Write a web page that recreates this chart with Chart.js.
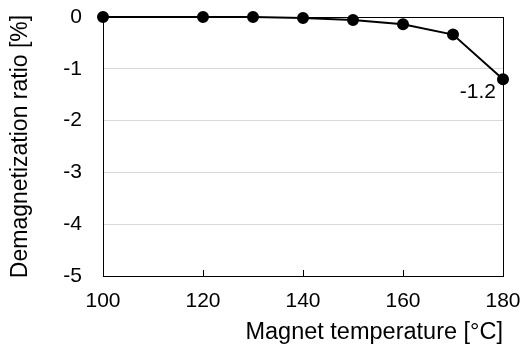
<!DOCTYPE html>
<html>
<head>
<meta charset="utf-8">
<script src="https://cdn.jsdelivr.net/npm/chart.js@4/dist/chart.umd.min.js"></script>
<style>
html,body{margin:0;padding:0;background:#fff;}
#wrap{width:527px;height:350px;position:relative;}
</style>
</head>
<body>
<div id="wrap"><canvas id="c" width="527" height="350"></canvas></div>
<script>
const temperatures = [100, 120, 130, 140, 150, 160, 170, 180];
const demagRatio = [0, 0, 0, -0.02, -0.06, -0.14, -0.34, -1.2];
const xTicks = [100, 120, 140, 160, 180];
const yTicks = [0, -1, -2, -3, -4, -5];
const xTitle = 'Magnet temperature [\u00B0C]';
const yTitle = 'Demagnetization ratio [%]';
const endLabel = '-1.2';

const FONT = "'Liberation Sans', Arial, sans-serif";

const boxPlugin = {
  id: 'boxPlugin',
  afterDatasetsDraw(chart) {
    const {ctx, chartArea: a, scales} = chart;
    ctx.save();
    ctx.strokeStyle = '#000';
    ctx.lineWidth = 1;
    ctx.strokeRect(Math.round(a.left) + 0.5, Math.round(a.top) + 0.5, Math.round(a.right - a.left), Math.round(a.bottom - a.top));
    ctx.beginPath();
    xTicks.slice(1, -1).forEach(v => {
      const x = Math.round(scales.x.getPixelForValue(v)) + 0.5;
      ctx.moveTo(x, a.bottom);
      ctx.lineTo(x, a.bottom - 6);
    });
    ctx.stroke();
    const meta = chart.getDatasetMeta(0);
    const last = meta.data[meta.data.length - 1];
    ctx.fillStyle = '#000';
    ctx.font = '21px ' + FONT;
    ctx.textAlign = 'right';
    ctx.textBaseline = 'top';
    ctx.fillText(endLabel, last.x - 7, last.y + 3);
    ctx.restore();
  }
};

new Chart(document.getElementById('c'), {
  type: 'scatter',
  data: {
    datasets: [{
      data: temperatures.map((t, i) => ({x: t, y: demagRatio[i]})),
      showLine: true,
      borderColor: '#000',
      backgroundColor: '#000',
      borderWidth: 2,
      pointRadius: 5,
      pointHoverRadius: 5,
      clip: false
    }]
  },
  options: {
    responsive: false,
    animation: false,
    events: [],
    layout: {padding: {top: 17, right: 24, left: 0, bottom: 0}},
    plugins: {legend: {display: false}, tooltip: {enabled: false}},
    scales: {
      x: {
        type: 'linear',
        min: 100, max: 180,
        afterBuildTicks(s) { s.ticks = xTicks.map(v => ({value: v})); },
        afterFit(s) { s.height = 74; s.paddingLeft = 0; s.paddingRight = 0; },
        grid: {display: false, drawTicks: false},
        border: {display: false},
        ticks: {color: '#000', font: {family: FONT, size: 21}, padding: 13, maxRotation: 0},
        title: {display: true, text: xTitle, align: 'end', color: '#000', font: {family: FONT, size: 23.5}, padding: {top: 0, bottom: 3}}
      },
      y: {
        type: 'linear',
        min: -5, max: 0,
        afterBuildTicks(s) { s.ticks = yTicks.map(v => ({value: v})); },
        afterFit(s) { s.width = 103; s.paddingTop = 0; s.paddingBottom = 0; },
        grid: {
          drawTicks: false,
          color: ctx => (ctx.tick && (ctx.tick.value === 0 || ctx.tick.value === -5)) ? 'rgba(0,0,0,0)' : '#d9d9d9',
          lineWidth: 1
        },
        border: {display: false},
        ticks: {color: '#000', font: {family: FONT, size: 21}, padding: 21},
        title: {display: true, text: yTitle, color: '#000', font: {family: FONT, size: 23}, padding: {top: 7, bottom: 0}}
      }
    }
  },
  plugins: [boxPlugin]
});
</script>
</body>
</html>
